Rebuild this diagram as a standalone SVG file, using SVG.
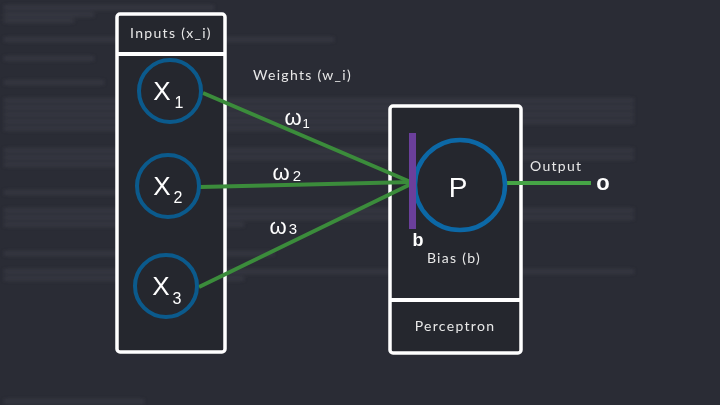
<svg xmlns="http://www.w3.org/2000/svg" width="720" height="405" viewBox="0 0 720 405">
<defs>
<filter id="blur" x="-5%" y="-50%" width="110%" height="200%"><feGaussianBlur stdDeviation="2.2"/></filter>
<style>
.box{fill:#25272e;stroke:#ffffff;stroke-width:3.5}
.div{stroke:#ffffff;stroke-width:4}
.in{fill:none;stroke:#0b5a8c;stroke-width:4}
.pc{fill:none;stroke:#0c68a6;stroke-width:4.5}
.lbl{font-family:Lato,"Liberation Sans",sans-serif;font-size:14px;fill:#e8e8e8;letter-spacing:1.3px}
.hw{font-family:"Liberation Sans",sans-serif;fill:#ffffff}
.wl{stroke:#3b8c3b;stroke-width:4;fill:none}
.bg{fill:#62656e;opacity:0.35}
</style>
</defs>
<rect width="720" height="405" fill="#2a2c35"/>
<g filter="url(#blur)">
<rect class="bg" x="4" y="6" width="210" height="3"/>
<rect class="bg" x="4" y="13" width="90" height="3"/>
<rect class="bg" x="4" y="19" width="70" height="3"/>
<rect class="bg" x="4" y="38" width="330" height="3"/>
<rect class="bg" x="4" y="57" width="90" height="3"/>
<rect class="bg" x="4" y="81" width="100" height="3"/>
<rect class="bg" x="4" y="99" width="630" height="3"/>
<rect class="bg" x="4" y="106" width="630" height="3"/>
<rect class="bg" x="4" y="113" width="630" height="3"/>
<rect class="bg" x="4" y="120" width="630" height="3"/>
<rect class="bg" x="4" y="127" width="420" height="3"/>
<rect class="bg" x="4" y="149" width="630" height="3"/>
<rect class="bg" x="4" y="156" width="630" height="3"/>
<rect class="bg" x="4" y="163" width="200" height="3"/>
<rect class="bg" x="4" y="191" width="120" height="3"/>
<rect class="bg" x="4" y="209" width="630" height="3"/>
<rect class="bg" x="4" y="216" width="630" height="3"/>
<rect class="bg" x="4" y="223" width="240" height="3"/>
<rect class="bg" x="4" y="252" width="270" height="3"/>
<rect class="bg" x="4" y="270" width="630" height="3"/>
<rect class="bg" x="4" y="277" width="240" height="3"/>
<rect class="bg" x="4" y="400" width="140" height="3"/>
</g>
<g id="inputs">
<rect class="box" x="117" y="14" width="108" height="338" rx="3"/>
<line class="div" x1="117" y1="54" x2="225" y2="54"/>
<text class="lbl" x="171" y="38" text-anchor="middle">Inputs (x_i)</text>
</g>
<g id="perceptron">
<rect class="box" x="390" y="106" width="131" height="247" rx="3"/>
<line class="div" x1="390" y1="300" x2="521" y2="300"/>
<text class="lbl" x="455" y="331" text-anchor="middle">Perceptron</text>
<text class="lbl" x="454" y="263" text-anchor="middle">Bias (b)</text>
</g>
<g id="connectors">
<line class="wl" x1="203" y1="93" x2="413" y2="183"/>
<line class="wl" x1="200" y1="187" x2="413" y2="182"/>
<line class="wl" x1="199" y1="287" x2="413" y2="183"/>
<line x1="507" y1="183" x2="591" y2="183" stroke="#46a546" stroke-width="4"/>
</g>
<g id="x1">
<circle class="in" cx="170" cy="91" r="31"/>
<text class="hw" x="162" y="100" font-size="26" text-anchor="middle">X</text>
<text class="hw" x="179" y="108" font-size="16" text-anchor="middle">1</text>
</g>
<g id="x2">
<circle class="in" cx="168" cy="186" r="31"/>
<text class="hw" x="162" y="195" font-size="26" text-anchor="middle">X</text>
<text class="hw" x="178" y="203" font-size="16" text-anchor="middle">2</text>
</g>
<g id="x3">
<circle class="in" cx="166" cy="286" r="31"/>
<text class="hw" x="161" y="295" font-size="26" text-anchor="middle">X</text>
<text class="hw" x="177" y="304" font-size="16" text-anchor="middle">3</text>
</g>
<g id="weights">
<text class="lbl" x="253" y="80">Weights (w_i)</text>
<text class="hw" x="293" y="125" font-size="22" text-anchor="middle">ω</text>
<text class="hw" x="306" y="128" font-size="13" text-anchor="middle">1</text>
<text class="hw" x="281" y="180" font-size="22" text-anchor="middle">ω</text>
<text class="hw" x="297" y="181" font-size="15" text-anchor="middle">2</text>
<text class="hw" x="278" y="234" font-size="22" text-anchor="middle">ω</text>
<text class="hw" x="293" y="234" font-size="15" text-anchor="middle">3</text>
</g>
<g id="neuron">
<circle class="pc" cx="460" cy="185" r="45"/>
<text class="hw" x="458" y="197" font-size="28" text-anchor="middle">P</text>
</g>
<g id="bias">
<rect x="409" y="133" width="7" height="96" fill="#6b3f9b"/>
<text class="hw" x="418" y="246" font-size="18" font-weight="bold" text-anchor="middle">b</text>
</g>
<g id="output">
<text class="lbl" x="530" y="171">Output</text>
<text class="hw" x="603" y="190" font-size="22" font-weight="bold" text-anchor="middle">o</text>
</g>
</svg>
